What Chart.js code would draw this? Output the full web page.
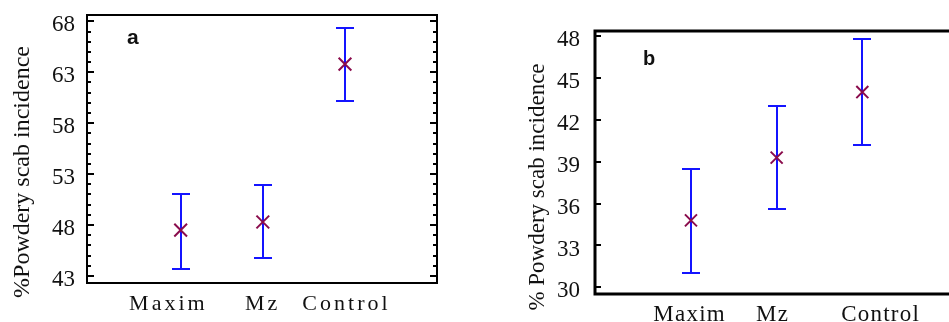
<!DOCTYPE html>
<html>
<head>
<meta charset="utf-8">
<script src="https://cdn.jsdelivr.net/npm/chart.js@4.4.1/dist/chart.umd.min.js"></script>
<style>
  html, body { margin: 0; padding: 0; background: #fff; overflow: hidden; width: 949px; height: 322px; }
  .panel { position: absolute; top: 0; }
  #wrapA { left: 0; width: 480px; height: 322px; }
  #wrapB { left: 480px; width: 469px; height: 322px; overflow: hidden; }
</style>
</head>
<body>
<div class="panel" id="wrapA"><canvas id="chartA" width="480" height="322"></canvas></div>
<div class="panel" id="wrapB"><canvas id="chartB" width="500" height="322"></canvas></div>
<script>
// Treatments on the x axis
const treatments = ['Maxim', 'Mz', 'Control'];

// Panel a: mean incidence and interval limits
const meanA  = [47.5, 48.3, 63.8];
const upperA = [51.0, 51.9, 67.3];
const lowerA = [43.7, 44.8, 60.2];
const yTicksA = [43, 48, 53, 58, 63, 68];

// Panel b: mean incidence and interval limits
const meanB  = [34.8, 39.3, 44.0];
const upperB = [38.5, 43.0, 47.8];
const lowerB = [31.0, 35.6, 40.2];
const yTicksB = [30, 33, 36, 39, 42, 45, 48];

const SERIF = '"Liberation Serif", "Times New Roman", serif';
const SANS = '"Liberation Sans", Arial, sans-serif';
const BAR_BLUE = '#1414ff';
const STAR_RED = '#8a0c4c';
const INK = '#111';

// Draws the interval bars, the framed box with inner ticks, category labels,
// the rotated axis title and the panel letter.
const panelDecor = {
  id: 'panelDecor',
  beforeDatasetsDraw(chart, args, o) {
    const { ctx, scales: { x, y } } = chart;
    ctx.save();
    ctx.strokeStyle = BAR_BLUE;
    ctx.lineWidth = 2;
    o.upper.forEach((hi, i) => {
      const px = Math.round(x.getPixelForValue(i + 1));
      const yh = Math.round(y.getPixelForValue(hi));
      const yl = Math.round(y.getPixelForValue(o.lower[i]));
      ctx.beginPath();
      ctx.moveTo(px, yh); ctx.lineTo(px, yl);
      ctx.moveTo(px - o.cap, yh); ctx.lineTo(px + o.cap, yh);
      ctx.moveTo(px - o.cap, yl); ctx.lineTo(px + o.cap, yl);
      ctx.stroke();
    });
    ctx.restore();
  },
  afterDraw(chart, args, o) {
    const { ctx, chartArea: ca, scales: { x, y } } = chart;
    ctx.save();

    // frame (left, top, bottom, and right when the box closes inside the canvas)
    ctx.strokeStyle = '#000';
    ctx.lineWidth = o.frameWidth;
    ctx.beginPath();
    if (o.frameRight) {
      ctx.rect(ca.left, ca.top, ca.right - ca.left, ca.bottom - ca.top);
    } else {
      ctx.moveTo(ca.right + 5, ca.top);
      ctx.lineTo(ca.left, ca.top);
      ctx.lineTo(ca.left, ca.bottom);
      ctx.lineTo(ca.right + 5, ca.bottom);
    }
    ctx.stroke();

    // inner tick marks
    ctx.lineWidth = 2;
    const tick = (v, len) => {
      const py = Math.round(y.getPixelForValue(v));
      ctx.beginPath();
      ctx.moveTo(ca.left, py); ctx.lineTo(ca.left + len, py);
      if (o.rightTicks) { ctx.moveTo(ca.right, py); ctx.lineTo(ca.right - len, py); }
      ctx.stroke();
    };
    o.majors.forEach(v => tick(v, o.majorLen));
    if (o.minorStep) {
      for (let v = o.majors[0]; v <= y.max; v += o.minorStep) {
        if (!o.majors.includes(v)) tick(v, o.minorLen);
      }
    }

    // category labels under the box
    ctx.fillStyle = INK;
    ctx.font = o.labelFont;
    ctx.textAlign = 'left';
    ctx.textBaseline = 'alphabetic';
    treatments.forEach((t, i) => {
      ctx.letterSpacing = '0px';
      const w = ctx.measureText(t).width + o.spacing * (t.length - 1);
      ctx.letterSpacing = o.spacing + 'px';
      const cx = x.getPixelForValue(i + 1 + o.labelShift[i]);
      ctx.fillText(t, cx - w / 2, o.labelBaseline);
    });
    ctx.letterSpacing = '0px';

    // axis title
    ctx.save();
    ctx.translate(o.titleX, o.titleY);
    ctx.rotate(-Math.PI / 2);
    ctx.font = o.titleFont;
    ctx.textAlign = 'center';
    ctx.fillText(o.title, 0, 0);
    ctx.restore();

    // panel letter
    ctx.font = o.letterFont;
    ctx.textAlign = 'left';
    ctx.fillText(o.letter, ca.left + o.letterDx, ca.top + o.letterDy);

    ctx.restore();
  }
};

function makePanel(canvasId, means, upper, lower, yTicks, L) {
  new Chart(document.getElementById(canvasId), {
    type: 'scatter',
    data: {
      datasets: [{
        data: means.map((m, i) => ({ x: i + 1, y: m })),
        pointStyle: 'crossRot',
        pointRadius: L.star,
        pointHoverRadius: L.star,
        borderColor: STAR_RED,
        backgroundColor: STAR_RED,
        pointBorderWidth: 2
      }]
    },
    options: {
      responsive: false,
      animation: false,
      events: [],
      layout: { padding: L.padding },
      plugins: {
        legend: { display: false },
        tooltip: { enabled: false },
        panelDecor: Object.assign({ upper, lower, majors: yTicks }, L.decor)
      },
      scales: {
        x: {
          type: 'linear',
          min: L.xMin, max: L.xMax,
          ticks: { display: false },
          grid: { drawOnChartArea: false, drawTicks: false },
          border: { display: false },
          afterFit(s) { s.height = L.xHeight; s.paddingLeft = 0; s.paddingRight = 0; }
        },
        y: {
          type: 'linear',
          min: L.yMin, max: L.yMax,
          afterBuildTicks(s) { s.ticks = yTicks.map(v => ({ value: v })); },
          ticks: {
            color: INK,
            font: { family: SERIF, size: 23 },
            padding: L.tickPad,
            labelOffset: 4
          },
          grid: { drawOnChartArea: false, drawTicks: false },
          border: { display: false },
          afterFit(s) { s.width = L.yWidth; s.paddingTop = 0; s.paddingBottom = 0; }
        }
      }
    },
    plugins: [panelDecor]
  });
}

makePanel('chartA', meanA, upperA, lowerA, yTicksA, {
  padding: { left: 0, top: 15, right: 43, bottom: 0 },
  yWidth: 87, xHeight: 39, tickPad: 12,
  xMin: -0.14, xMax: 4.12, yMin: 42.31, yMax: 68.62,
  star: 9,
  decor: {
    cap: 9, frameWidth: 2, frameRight: true, rightTicks: true,
    majorLen: 7, minorLen: 4, minorStep: 1,
    labelFont: '22px ' + SERIF, spacing: 3,
    labelShift: [-0.168, -0.02, 0], labelBaseline: 310,
    title: '%Powdery scab incidence', titleFont: '24px ' + SERIF,
    titleX: 29, titleY: 172,
    letter: 'a', letterFont: 'bold 21px ' + SANS, letterDx: 40, letterDy: 29
  }
});

makePanel('chartB', meanB, upperB, lowerB, yTicksB, {
  padding: { left: 0, top: 31, right: 20, bottom: 0 },
  yWidth: 115, xHeight: 28, tickPad: 15,
  xMin: -0.12, xMax: 4.14, yMin: 29.52, yMax: 48.38,
  star: 8.5,
  decor: {
    cap: 9, frameWidth: 3, frameRight: false, rightTicks: false,
    majorLen: 6, minorLen: 0, minorStep: 0,
    labelFont: '23px ' + SERIF, spacing: 1.2,
    labelShift: [-0.023, -0.055, 0.207], labelBaseline: 320.5,
    title: '% Powdery scab incidence', titleFont: '23px ' + SERIF,
    titleX: 64, titleY: 187,
    letter: 'b', letterFont: 'bold 20px ' + SANS, letterDx: 48, letterDy: 33.5
  }
});
</script>
</body>
</html>
